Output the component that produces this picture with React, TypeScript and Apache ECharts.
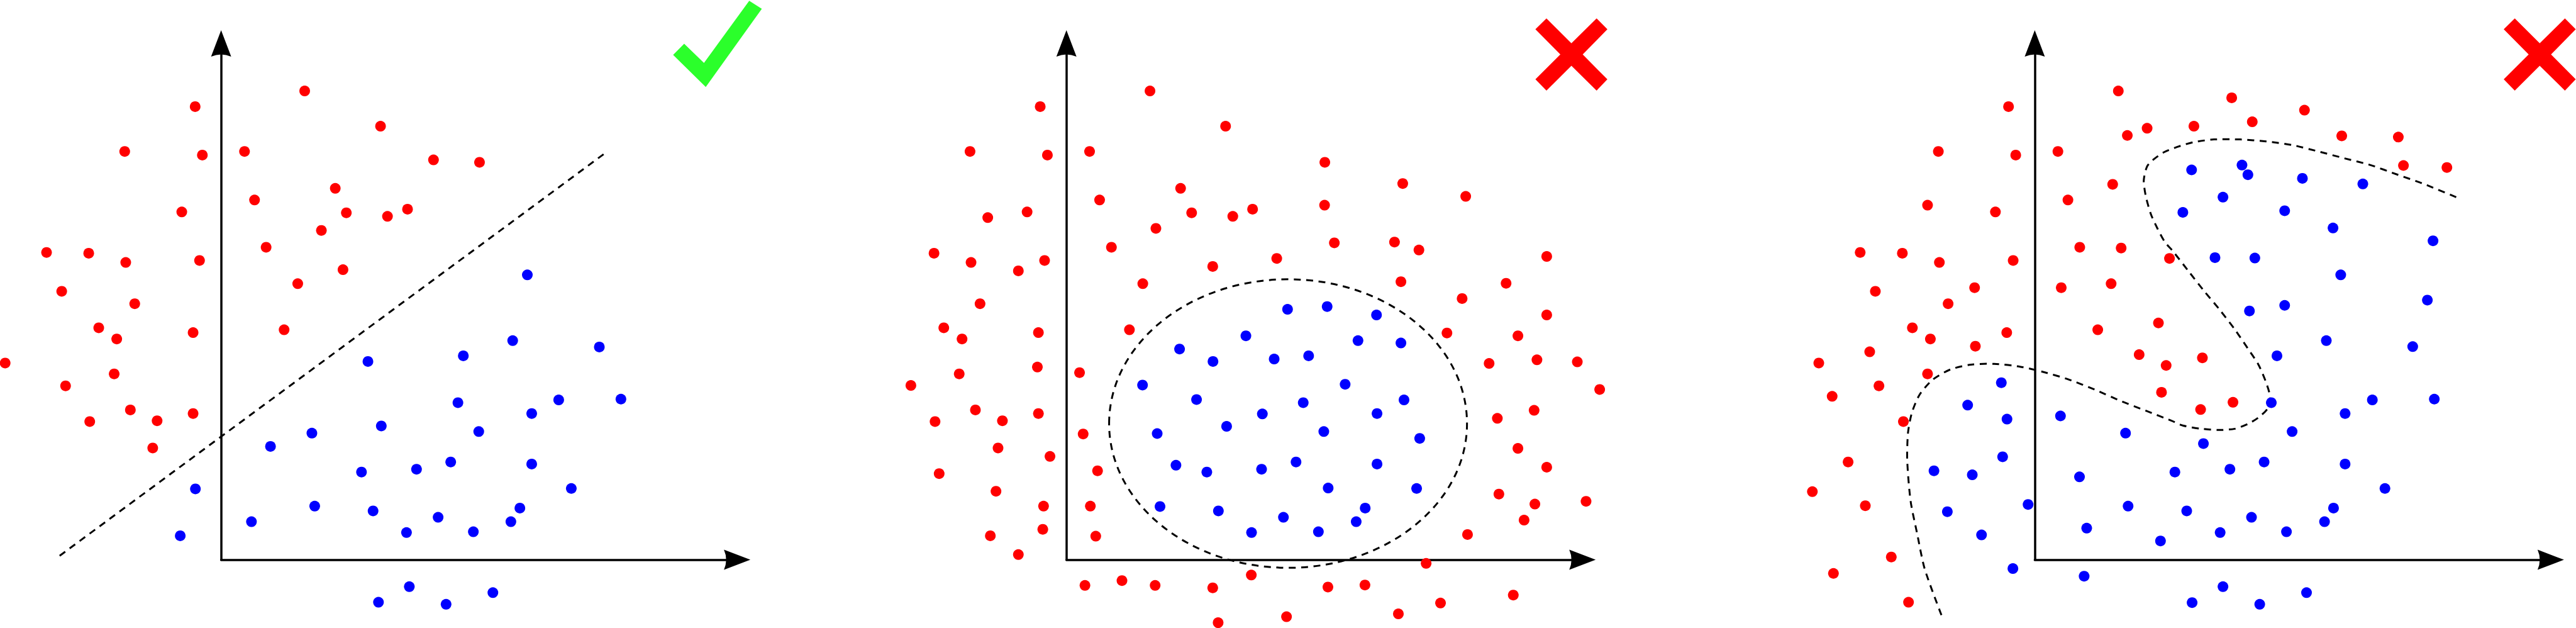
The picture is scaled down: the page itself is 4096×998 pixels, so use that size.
import React, { useEffect, useRef } from 'react';
import * as echarts from 'echarts';

// Each panel uses its own axes; origin = corner of the drawn axes.
// x and y units are independent (scaled by ECharts' axes).

const P1_RED: number[][] = [
  [-101, 1131], [-375, 1019], [-73, 1010], [91, 1019], [325, 1170], [620, 1082],
  [130, 898], [-153, 868], [444, 927], [487, 866], [647, 857], [390, 822],
  [175, 780], [-679, 767], [-515, 765], [-371, 742], [-84, 747], [474, 724],
  [-620, 670], [298, 689], [-336, 639], [-476, 579], [-406, 551], [-109, 567],
  [245, 574], [-840, 491], [-416, 464], [-605, 434], [-353, 374], [-109, 365],
  [-511, 345], [-249, 347], [-266, 279], [725, 875], [826, 998], [1005, 992],
];

const P1_BLUE: number[][] = [
  [571, 495], [353, 316], [192, 283], [623, 334], [546, 219], [-100, 177],
  [364, 134], [118, 95], [591, 122], [-159, 60], [612, -106],
  [1191, 711], [1134, 547], [942, 509], [1471, 531], [921, 392], [1208, 365],
  [1313, 399], [1555, 401], [1002, 320], [760, 226], [893, 244], [1208, 239],
  [1362, 178], [1162, 129], [844, 106], [1127, 95], [981, 70], [721, 68],
  [732, -67], [875, -111], [1057, -82],
];

const P1_SEPARATOR: number[][] = [[-628, 10], [1498, 1017]];

const P2_RED: number[][] = [
  [-102, 1131], [-375, 1019], [-74, 1010], [90, 1019], [325, 1170], [619, 1082],
  [129, 898], [-153, 868], [-306, 854], [444, 927], [487, 866], [647, 857],
  [724, 875], [348, 827], [175, 780], [-515, 765], [-371, 742], [-85, 747],
  [-187, 721], [569, 732], [297, 689], [-336, 639], [-477, 579], [-406, 551],
  [-109, 567], [245, 574], [-113, 481], [51, 467], [-605, 435], [-417, 464],
  [-354, 374], [-511, 345], [-249, 347], [-109, 365], [65, 314], [-266, 279],
  [-64, 258], [121, 222], [-495, 215], [-274, 171], [-89, 134], [93, 134],
  [-296, 60], [-92, 76], [114, 59], [-187, 13], [72, -64], [216, -52],
  [345, -64], [569, -70], [719, -38], [590, -157],
  [1005, 992], [1308, 939], [1553, 907], [1004, 885], [1042, 791], [1276, 793],
  [1371, 773], [818, 752], [1868, 757], [1301, 694], [1710, 690], [1539, 652],
  [1868, 611], [1480, 566], [1756, 559], [1644, 490], [1830, 499], [1987, 494],
  [2074, 425], [1819, 373], [1676, 353], [1756, 278], [1868, 231], [1682, 164],
  [1822, 139], [2021, 146], [1780, 99], [1560, 63], [1399, -9], [1017, -68],
  [1161, -63], [856, -142], [1291, -135], [1455, -108], [1738, -88],
];

const P2_BLUE: number[][] = [
  [440, 526], [570, 495], [698, 559], [296, 436], [506, 400], [762, 364],
  [353, 315], [623, 333], [426, 236], [546, 219], [759, 226], [364, 133],
  [591, 122], [720, 68],
  [860, 625], [1014, 632], [1206, 611], [1134, 547], [1301, 541], [808, 501],
  [942, 509], [1084, 438], [921, 392], [1313, 399], [1208, 365], [1001, 320],
  [1374, 303], [893, 244], [1208, 239], [1018, 179], [1362, 178], [1162, 129],
  [844, 106], [1127, 95], [980, 70],
];

// centre x, centre y, radius x, radius y
const P2_ELLIPSE: number[] = [862, 340, 696, 360];

const P3_RED: number[][] = [
  [-102, 1131], [-375, 1019], [-74, 1010], [90, 1019], [325, 1170], [360, 1059],
  [437, 1077], [303, 937], [129, 898], [-153, 868], [-417, 885], [-679, 767],
  [-515, 765], [-371, 742], [-84, 747], [175, 780], [336, 778], [524, 752],
  [-620, 670], [-234, 679], [-337, 639], [103, 679], [297, 689], [-476, 579],
  [-406, 551], [-231, 533], [-109, 567], [245, 574], [481, 591], [-840, 491],
  [-642, 519], [406, 512], [511, 485], [-417, 464], [-788, 408], [-606, 434],
  [493, 418], [-511, 345], [-726, 244], [-865, 170], [-659, 135], [-558, 7],
  [-783, -34], [-491, -106],
  [766, 1153], [619, 1082], [846, 1093], [1049, 1122], [1194, 1058], [1414, 1055],
  [1434, 984], [1603, 979], [652, 504], [645, 375], [771, 393],
];

const P3_BLUE: number[][] = [
  [-130, 442], [-261, 386], [-108, 351], [100, 359], [353, 316], [-125, 257],
  [-392, 222], [-243, 212], [174, 207], [545, 219], [-26, 138], [-340, 120],
  [363, 134], [-207, 62], [202, 79], [489, 47], [-85, -22], [192, -41],
  [610, 973], [806, 985], [829, 961], [1041, 952], [1276, 938], [732, 905],
  [576, 867], [972, 871], [1160, 828], [1549, 796], [701, 754], [856, 753],
  [1190, 711], [835, 621], [972, 635], [1527, 648], [1134, 547], [942, 509],
  [1470, 532], [920, 392], [1207, 365], [1313, 399], [1554, 401], [1001, 320],
  [656, 290], [759, 226], [892, 244], [1207, 239], [1362, 178], [591, 122],
  [843, 106], [721, 68], [979, 70], [1162, 129], [1127, 95], [612, -107],
  [732, -67], [875, -111], [1057, -82],
];

const P3_BOUNDARY: number[][] = [
  [-363, -138], [-428, -23], [-458, 67], [-483, 147], [-496, 247], [-493, 317],
  [-478, 367], [-448, 412], [-398, 449], [-328, 475], [-248, 487], [-158, 489],
  [-58, 482], [32, 469], [132, 450], [232, 425], [332, 397], [432, 372],
  [532, 347], [576, 335], [647, 327], [718, 324], [778, 327], [829, 339],
  [870, 355], [905, 377], [915, 407], [900, 442], [870, 487], [829, 527],
  [778, 575], [718, 625], [657, 672], [596, 722], [535, 772], [507, 792],
  [477, 827], [452, 862], [432, 907], [424, 947], [437, 982], [462, 999],
  [502, 1017], [553, 1030], [616, 1042], [697, 1049], [799, 1049], [900, 1044],
  [1002, 1035], [1103, 1019], [1204, 1002], [1306, 985], [1407, 962], [1509, 939],
  [1643, 904],
];

const CHECK_MARK: number[][] = [
  [1758, 1260], [1801, 1288], [1878, 1240], [2054, 1395], [2103, 1375], [1885, 1180],
];

const CROSS_MARK: number[][] = [
  [1824, 1324], [1867, 1351], [1964, 1289], [2062, 1351], [2104, 1324], [2008, 1261],
  [2104, 1199], [2062, 1171], [1964, 1233], [1867, 1171], [1824, 1199], [1921, 1261],
];

// Layout (px)
const WIDTH = 4096;
const HEIGHT = 998;
const ORIGIN_X = [351.6, 1695.7, 3235.4];
const ORIGIN_Y = 889.6;
const LINE_LEN = 820.5;
const X_MAX = 2007;
const Y_MAX = 1288.5;

const RED = '#ff0000';
const BLUE = '#0000ff';
const GREEN = '#2bff2b';
const ARROW = 'path://M16,0 L32,42 Q16,35 0,42 Z';
const DOT = 17;
const DASH_STYLE = { fill: 'none', stroke: '#000', lineWidth: 3, lineDash: [11, 8.7] };

function polygonSeries(idx: number, pts: number[][], color: string) {
  return {
    type: 'custom',
    xAxisIndex: idx,
    yAxisIndex: idx,
    clip: false,
    silent: true,
    data: [[0, 0]],
    renderItem: (_params: any, api: any) => ({
      type: 'polygon',
      shape: { points: pts.map((p) => api.coord(p)) },
      style: { fill: color },
    }),
  };
}

function dashedCurveSeries(idx: number, pts: number[][], smooth: number) {
  return {
    type: 'custom',
    xAxisIndex: idx,
    yAxisIndex: idx,
    clip: false,
    silent: true,
    data: [[0, 0]],
    renderItem: (_params: any, api: any) => ({
      type: 'polyline',
      shape: { points: pts.map((p) => api.coord(p)), smooth },
      style: DASH_STYLE,
    }),
  };
}

export default function App() {
  const ref = useRef<HTMLDivElement>(null);

  useEffect(() => {
    document.body.style.margin = '0';
    if (!ref.current) return;
    const chart = echarts.init(ref.current, undefined, { renderer: 'svg' });

    const grids = ORIGIN_X.map((ox) => ({
      left: ox,
      top: ORIGIN_Y - LINE_LEN,
      width: LINE_LEN,
      height: LINE_LEN,
      containLabel: false,
    }));

    const axisCommon = {
      type: 'value',
      axisTick: { show: false },
      axisLabel: { show: false },
      splitLine: { show: false },
      axisLine: {
        show: true,
        onZero: true,
        symbol: ['none', ARROW],
        symbolSize: [32, 42],
        lineStyle: { color: '#000', width: 3.5 },
      },
    };

    const xAxes = [0, 1, 2].map((i) => ({ ...axisCommon, gridIndex: i, min: 0, max: X_MAX }));
    const yAxes = [0, 1, 2].map((i) => ({ ...axisCommon, gridIndex: i, min: 0, max: Y_MAX }));

    const scatter = (idx: number, data: number[][], color: string) => ({
      type: 'scatter',
      xAxisIndex: idx,
      yAxisIndex: idx,
      data,
      symbol: 'circle',
      symbolSize: DOT,
      itemStyle: { color, opacity: 1 },
      clip: false,
      silent: true,
      z: 3,
    });

    const series: any[] = [
      dashedCurveSeries(0, P1_SEPARATOR, 0),
      {
        type: 'custom',
        xAxisIndex: 1,
        yAxisIndex: 1,
        clip: false,
        silent: true,
        data: [[P2_ELLIPSE[0], P2_ELLIPSE[1]]],
        renderItem: (_params: any, api: any) => {
          const c = api.coord([P2_ELLIPSE[0], P2_ELLIPSE[1]]);
          const e = api.coord([P2_ELLIPSE[0] + P2_ELLIPSE[2], P2_ELLIPSE[1] + P2_ELLIPSE[3]]);
          return {
            type: 'ellipse',
            shape: { cx: c[0], cy: c[1], rx: Math.abs(e[0] - c[0]), ry: Math.abs(c[1] - e[1]) },
            style: DASH_STYLE,
          };
        },
      },
      dashedCurveSeries(2, P3_BOUNDARY, 0.25),
      scatter(0, P1_RED, RED),
      scatter(0, P1_BLUE, BLUE),
      scatter(1, P2_RED, RED),
      scatter(1, P2_BLUE, BLUE),
      scatter(2, P3_RED, RED),
      scatter(2, P3_BLUE, BLUE),
      polygonSeries(0, CHECK_MARK, GREEN),
      polygonSeries(1, CROSS_MARK, RED),
      polygonSeries(2, CROSS_MARK, RED),
    ];

    chart.setOption({
      animation: false,
      backgroundColor: '#ffffff',
      grid: grids,
      xAxis: xAxes,
      yAxis: yAxes,
      series,
    });

    return () => {
      chart.dispose();
    };
  }, []);

  return <div ref={ref} style={{ width: WIDTH, height: HEIGHT }} />;
}
